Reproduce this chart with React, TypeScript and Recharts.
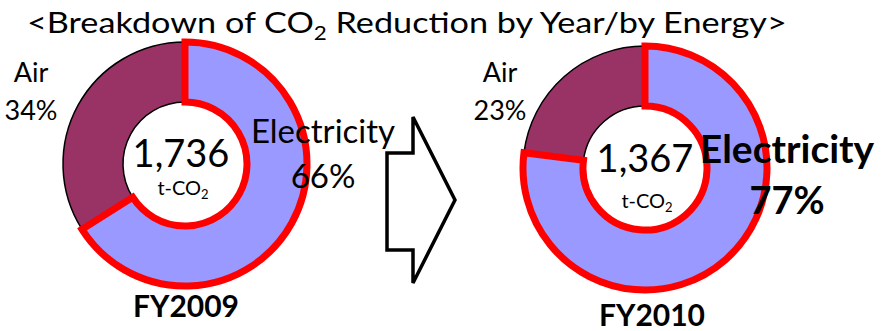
import { PieChart, Pie, Cell } from "recharts";

// CO2 reduction split by energy source, one donut per fiscal year
const energies = ["Air", "Electricity"];
const years = ["FY2009", "FY2010"];
const shares2009 = [34, 66];
const shares2010 = [23, 77];
const totals = [1736, 1367];

const FONT = "Lato, 'Noto Sans', sans-serif";
const COLORS: Record<string, string> = { Air: "#993366", Electricity: "#9999FF" };

const toRows = (shares: number[]) => energies.map((name, i) => ({ name, value: shares[i] }));

function Slices({ rows, cx, cy }: { rows: { name: string; value: number }[]; cx: number; cy: number }) {
  return (
    <Pie
      data={rows}
      dataKey="value"
      nameKey="name"
      cx={cx}
      cy={cy}
      innerRadius={62}
      outerRadius={122}
      startAngle={90}
      endAngle={450}
      isAnimationActive={false}
      label={false}
      labelLine={false}
    >
      {rows.map((r) => (
        <Cell
          key={r.name}
          fill={COLORS[r.name]}
          stroke={r.name === "Electricity" ? "#FF0000" : "#000000"}
          strokeWidth={r.name === "Electricity" ? 7 : 1.5}
        />
      ))}
    </Pie>
  );
}

function CenterLabel({ x, y, total, dy }: { x: number; y: number; total: number; dy: number }) {
  return (
    <g textAnchor="middle">
      <text x={x} y={y} fontSize={38}>
        {total.toLocaleString("en-US")}
      </text>
      <text x={x + 2} y={y + dy} fontSize={20}>
        t-CO<tspan fontSize={13} dy={4}>2</tspan>
      </text>
    </g>
  );
}

export default function App() {
  const rows2009 = toRows(shares2009);
  const rows2010 = toRows(shares2010);
  return (
    <div style={{ position: "absolute", left: 0, top: 0, width: 894, height: 331, background: "#fff" }}>
      <PieChart width={894} height={331} margin={{ top: 0, right: 0, bottom: 0, left: 0 }}>
        <Slices rows={rows2009} cx={185} cy={164} />
        <Slices rows={rows2010} cx={645} cy={168} />
      </PieChart>

      {/* text and arrow sit above the sectors */}
      <svg
        width={894}
        height={331}
        style={{ position: "absolute", left: 0, top: 0, pointerEvents: "none" }}
        fontFamily={FONT}
        fill="#000"
      >
        <text transform="translate(27,33) scale(1.18,1)" fontSize={29}>
          {"<Breakdown of CO"}
          <tspan fontSize={19} dy={7}>2</tspan>
          <tspan dy={-7}>{" Reduction by Year/by Energy>"}</tspan>
        </text>

        <g textAnchor="middle" fontSize={27}>
          <text x={31} y={82}>{energies[0]}</text>
          <text x={31} y={120}>{shares2009[0]}%</text>
          <text x={323} y={143} fontSize={33}>{energies[1]}</text>
          <text x={323} y={188} fontSize={33}>{shares2009[1]}%</text>
          <text x={186} y={317} fontSize={30} fontWeight="bold">{years[0]}</text>
        </g>
        <CenterLabel x={181} y={167} total={totals[0]} dy={28} />

        <g textAnchor="middle" fontSize={27}>
          <text x={500} y={82}>{energies[0]}</text>
          <text x={500} y={120}>{shares2010[0]}%</text>
          <text x={787} y={163} fontSize={39} fontWeight="bold">{energies[1]}</text>
          <text x={787} y={214} fontSize={38} fontWeight="bold">{shares2010[1]}%</text>
          <text x={652} y={326} fontSize={30} fontWeight="bold">{years[1]}</text>
        </g>
        <CenterLabel x={645} y={172} total={totals[1]} dy={36} />

        <polygon
          points="387,153 413,153 413,117 455,200 413,283 413,250 387,250"
          fill="#fff"
          stroke="#000"
          strokeWidth={3.5}
        />
      </svg>
    </div>
  );
}
